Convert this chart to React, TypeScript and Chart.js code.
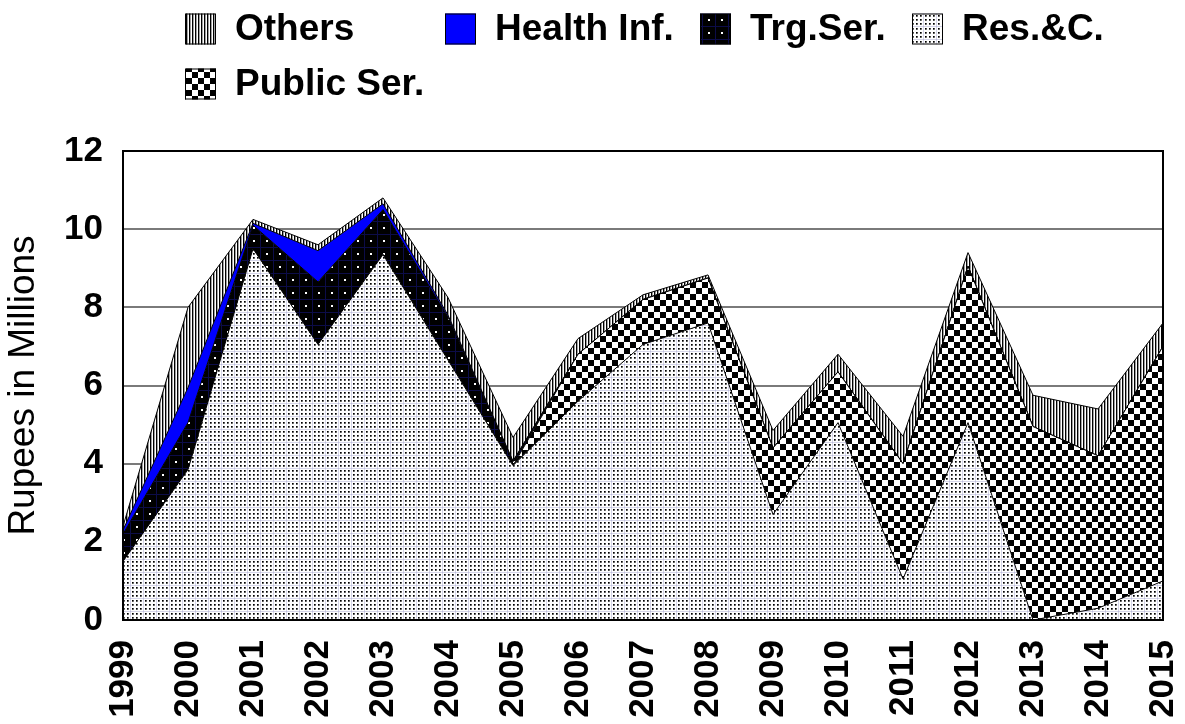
import React, { useEffect, useRef } from "react";
import { Chart, registerables } from "chart.js";

Chart.register(...registerables);

// ---- data ----
const years = ["1999", "2000", "2001", "2002", "2003", "2004", "2005", "2006", "2007", "2008", "2009", "2010", "2011", "2012", "2013", "2014", "2015"];
const resC = [1.5, 3.85, 9.5, 7.05, 9.35, 6.65, 3.95, 5.6, 7.05, 7.6, 2.7, 5.05, 1.05, 5.05, 0, 0.3, 1.0];
const publicSer = [0, 0, 0, 0, 0, 0, 0, 1.2, 1.15, 1.15, 1.7, 1.3, 2.95, 4.0, 4.95, 3.9, 6.0];
const trgSer = [0.7, 1.2, 0.6, 1.6, 1.15, 1.1, 0.1, 0, 0, 0, 0, 0, 0, 0, 0, 0, 0];
const healthInf = [0.1, 0.9, 0.05, 0.8, 0.15, 0.05, 0.02, 0, 0, 0, 0, 0, 0, 0, 0, 0, 0];
const others = [0.1, 2.05, 0.1, 0.15, 0.15, 0.45, 0.6, 0.4, 0.12, 0.08, 0.45, 0.45, 0.7, 0.35, 0.8, 1.2, 0.6];
const legendOrder = ["Others", "Health Inf.", "Trg.Ser.", "Res.&C.", "Public Ser."];
const yAxisTitle = "Rupees in Millions";

const FONT = "'Liberation Sans', Arial, sans-serif";

function tile(w: number, h: number, draw: (c: CanvasRenderingContext2D) => void) {
  const c = document.createElement("canvas");
  c.width = w;
  c.height = h;
  const ctx = c.getContext("2d")!;
  draw(ctx);
  return c;
}

function makePatterns(ctx: CanvasRenderingContext2D) {
  const dots = tile(13, 13, (c) => {
    c.fillStyle = "#fff";
    c.fillRect(0, 0, 13, 13);
    c.fillStyle = "rgba(150,150,200,0.4)";
    c.fillRect(0, 0, 13, 1);
    c.fillRect(0, 0, 1, 13);
    c.fillStyle = "#000";
    const pos = [2, 6, 10];
    for (const x of pos) for (const y of pos) c.fillRect(x, y, 1.7, 1.7);
  });
  const trg = tile(13, 13, (c) => {
    c.fillStyle = "#000";
    c.fillRect(0, 0, 13, 13);
    c.fillStyle = "#0c0c48";
    c.fillRect(0, 0, 13, 1);
    c.fillRect(0, 0, 1, 13);
    c.fillStyle = "#fff";
    c.fillRect(6, 6, 2, 2);
  });
  const checker = tile(12, 12, (c) => {
    c.fillStyle = "#fff";
    c.fillRect(0, 0, 12, 12);
    c.fillStyle = "#000";
    c.fillRect(0, 0, 6, 6);
    c.fillRect(6, 6, 6, 6);
  });
  const stripes = tile(3, 3, (c) => {
    c.fillStyle = "#fff";
    c.fillRect(0, 0, 3, 3);
    c.fillStyle = "#000";
    c.fillRect(0, 0, 1, 3);
    c.fillStyle = "#a0a0a0";
    c.fillRect(1, 0, 1, 3);
  });
  return {
    res: ctx.createPattern(dots, "repeat")!,
    trg: ctx.createPattern(trg, "repeat")!,
    pub: ctx.createPattern(checker, "repeat")!,
    oth: ctx.createPattern(stripes, "repeat")!,
  };
}

export default function App() {
  const ref = useRef<HTMLCanvasElement | null>(null);

  useEffect(() => {
    const canvas = ref.current!;
    const ctx = canvas.getContext("2d")!;
    const p = makePatterns(ctx);

    const fills: Record<string, any> = {
      "Res.&C.": p.res,
      "Public Ser.": p.pub,
      "Trg.Ser.": p.trg,
      "Health Inf.": "#0000ff",
      Others: p.oth,
    };

    const legendPlugin = {
      id: "customLegend",
      afterDraw(chart: any) {
        const c = chart.ctx;
        const slots = [
          { x: 185, y: 29 },
          { x: 445, y: 29 },
          { x: 700, y: 29 },
          { x: 912, y: 29 },
          { x: 185, y: 84 },
        ];
        c.save();
        c.font = `bold 37px ${FONT}`;
        c.textBaseline = "middle";
        c.textAlign = "left";
        legendOrder.forEach((name, i) => {
          const s = slots[i];
          const bw = 31, bh = 31;
          c.fillStyle = fills[name];
          c.fillRect(s.x, s.y - bh / 2, bw, bh);
          c.strokeStyle = "#000";
          c.lineWidth = 1;
          c.strokeRect(s.x + 0.5, s.y - bh / 2 + 0.5, bw - 1, bh - 1);
          c.fillStyle = "#000";
          c.fillText(name, s.x + 50, s.y + 1);
        });
        c.restore();
      },
    };

    const frame = {
      id: "frame",
      afterDatasetsDraw(chart: any) {
        const { left, top, right, bottom } = chart.chartArea;
        const c = chart.ctx;
        c.save();
        c.strokeStyle = "#000";
        c.lineWidth = 2;
        c.strokeRect(left, top, right - left, bottom - top);
        c.restore();
      },
    };

    const mk = (label: string, data: number[], fill: any) => ({
      label,
      data,
      backgroundColor: fills[label],
      borderColor: "#000",
      borderWidth: 1,
      pointRadius: 0,
      tension: 0,
      fill,
    });

    const chart = new Chart(canvas, {
      type: "line",
      data: {
        labels: years,
        datasets: [
          mk("Res.&C.", resC, "origin"),
          mk("Public Ser.", publicSer, "-1"),
          mk("Trg.Ser.", trgSer, "-1"),
          mk("Health Inf.", healthInf, "-1"),
          mk("Others", others, "-1"),
        ],
      },
      options: {
        responsive: false,
        animation: false,
        layout: { padding: { top: 151, right: 22, left: 0, bottom: 0 } },
        plugins: { legend: { display: false }, tooltip: { enabled: false } },
        scales: {
          x: {
            offset: false,
            grid: { display: false, drawTicks: false },
            border: { display: true, color: "#000", width: 2 },
            ticks: {
              color: "#000",
              font: { family: FONT, size: 35, weight: "bold" },
              maxRotation: 90,
              minRotation: 90,
              padding: 20,
              autoSkip: false,
            },
            afterFit: (s: any) => {
              s.height = 104;
              s.paddingLeft = 0;
              s.paddingRight = 0;
            },
          },
          y: {
            stacked: true,
            min: 0,
            max: 12,
            grid: { color: "#7a7a7a", lineWidth: 2, drawTicks: false },
            border: { display: true, color: "#000", width: 2 },
            ticks: {
              stepSize: 2,
              color: "#000",
              font: { family: FONT, size: 35, weight: "bold" },
              padding: 20,
            },
            title: {
              display: true,
              text: yAxisTitle,
              color: "#000",
              font: { family: FONT, size: 37, weight: "normal" },
              padding: { top: 2, bottom: 0 },
            },
            afterFit: (s: any) => {
              s.width = 123;
            },
          },
        },
      },
      plugins: [legendPlugin, frame],
    });
    return () => chart.destroy();
  }, []);

  return (
    <div style={{ position: "absolute", left: 0, top: 0, width: 1185, height: 724, background: "#fff" }}>
      <canvas ref={ref} width={1185} height={724} style={{ display: "block" }} />
    </div>
  );
}
